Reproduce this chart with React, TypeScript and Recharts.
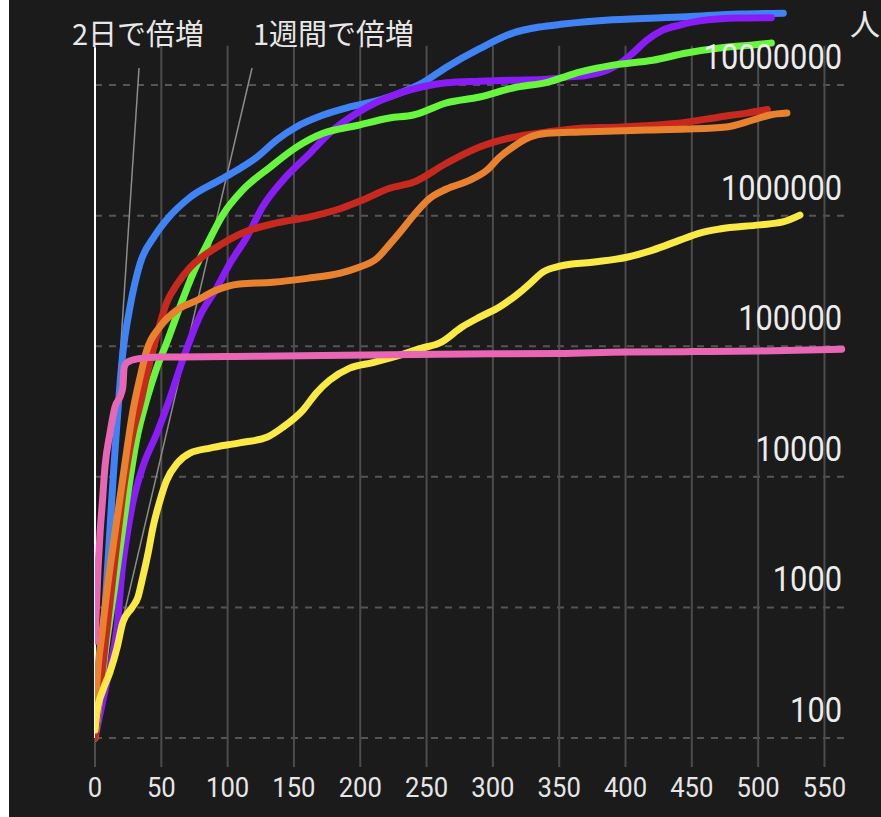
import { LineChart, Line, XAxis, YAxis, ReferenceLine } from 'recharts'

// days since the 100th case, cumulative cases (log scale)
const xTicks = [0, 50, 100, 150, 200, 250, 300, 350, 400, 450, 500, 550]
const yTicks = [100, 1000, 10000, 100000, 1000000, 10000000]

const blueSeries: [number, number][] = [
  [0, 100], [7.5, 960], [13.6, 9500], [21, 89000], [26.4, 200000], [34, 430000],
  [45, 700000], [54, 930000], [71.6, 1380000], [94, 1870000], [107, 2230000],
  [122, 2800000], [137, 3800000], [152, 4800000], [172, 5900000], [192, 6800000],
  [215, 7700000], [230, 8700000], [247, 10400000], [265, 13700000], [290, 19000000],
  [315, 25000000], [335, 27800000], [353, 29300000], [390, 31600000], [446, 33300000],
  [486, 35000000], [519, 35500000],
]

const purpleSeries: [number, number][] = [
  [0, 100], [6, 195], [11.3, 350], [16.6, 700], [20.4, 1900], [24, 3500], [28.6, 6400],
  [36, 11900], [46.7, 21600], [56.5, 40000], [66, 78000], [79, 170000], [92, 282000],
  [102, 435000], [114.6, 690000], [126.6, 1180000], [141.7, 1870000], [162, 3000000],
  [177, 4300000], [197.5, 6100000], [212.6, 7400000], [230, 8700000], [247, 9700000],
  [265, 10400000], [290, 10700000], [315, 10900000], [341, 11100000], [356, 11500000],
  [371, 11900000], [386, 13000000], [396, 14700000], [405.6, 17600000], [416, 22000000],
  [428, 26300000], [441, 28800000], [456, 31000000], [486, 32600000], [510, 32800000],
]

const greenSeries: [number, number][] = [
  [0, 100], [7.5, 435], [15, 1480], [23.4, 6000], [31.7, 20000], [39, 39000],
  [46.7, 69000], [54, 106000], [64, 200000], [74, 363000], [84.4, 600000],
  [96.5, 1020000], [111.6, 1580000], [132, 2350000], [152, 3350000], [172, 4270000],
  [197.5, 4900000], [222, 5600000], [240, 5900000], [265, 7300000], [290, 8100000],
  [315, 9500000], [341, 10500000], [366, 12600000], [390.5, 14200000], [420.6, 15500000],
  [446, 17600000], [471, 19200000], [496, 20300000], [510, 21000000],
]

const redSeries: [number, number][] = [
  [0, 100], [3.8, 233], [9.8, 800], [15, 2300], [20.4, 6600], [24, 11900], [28.6, 21600],
  [34, 35500], [40, 66000], [46.7, 122000], [54, 215000], [62, 300000], [71.6, 400000],
  [92, 575000], [111.6, 740000], [137, 880000], [162, 980000], [187, 1150000],
  [202, 1320000], [222, 1620000], [240, 1800000], [265, 2520000], [290, 3350000],
  [315, 3980000], [341, 4370000], [366, 4670000], [396, 4780000], [446, 5200000],
  [471, 5700000], [491.5, 6100000], [507, 6500000],
]

const orangeSeries: [number, number][] = [
  [0, 130], [1.5, 265], [5.3, 635], [9.8, 1540], [15, 3700], [20.4, 8900], [24, 16000],
  [28.6, 32000], [34, 58000], [39, 93000], [49, 141000], [62, 190000], [77, 225000],
  [90, 265000], [109, 300000], [134, 309000], [160, 331000], [185, 363000],
  [197.5, 398000], [212.6, 470000], [222, 600000], [232, 790000], [240, 1000000],
  [252.5, 1360000], [265, 1600000], [282.7, 1870000], [295.5, 2230000], [305, 2800000],
  [315, 3350000], [328, 4000000], [341, 4270000], [366, 4370000], [416, 4520000],
  [446, 4600000], [476, 4780000], [496, 5400000], [509, 5900000], [521.7, 6100000],
]

const yellowSeries: [number, number][] = [
  [0, 115], [1.5, 158], [6, 233], [11.3, 320], [16.6, 490], [21, 770], [28, 1000],
  [32.4, 1200], [36, 1700], [40, 2600], [43.7, 4100], [49, 6600], [54, 9400],
  [62, 12700], [71.6, 15200], [86.7, 16600], [109, 18200], [130, 20200], [141.7, 24000],
  [157, 32600], [167, 44000], [177, 55000], [192, 68000], [209.6, 75000], [222, 81000],
  [247, 97000], [260, 106000], [277, 141000], [290, 167000], [305, 200000],
  [320, 257000], [328, 302000], [338, 371000], [350.5, 410000], [375, 440000],
  [401, 480000], [420.6, 545000], [441, 650000], [456, 735000], [471, 790000],
  [501, 850000], [518.6, 895000], [531.5, 1010000],
]

const pinkSeries: [number, number][] = [
  [0, 550], [2.3, 2000], [3.8, 3700], [5.3, 5900], [7.5, 11900], [11.3, 21600],
  [15, 34000], [20, 44000], [21, 49000], [22, 69000], [24, 75000], [32, 80000],
  [49, 82600], [124, 84000], [222, 86000], [300, 87500], [350, 88000], [400, 90500],
  [450, 91000], [500, 92000], [563, 95000],
]

const twoDayLine: [number, number][] = [[0, 100], [33.2, 13500000]]
const oneWeekLine: [number, number][] = [[0, 100], [118.4, 13500000]]

const gridBottom = 60
const gridTop = 20000000
const zeroLineTop = 19500000
const xMax = 567

const series = [
  { name: 'blue', color: '#3f83f5', points: blueSeries },
  { name: 'purple', color: '#8a1cf7', points: purpleSeries },
  { name: 'green', color: '#68f53e', points: greenSeries },
  { name: 'red', color: '#c8291f', points: redSeries },
  { name: 'orange', color: '#e8822f', points: orangeSeries },
  { name: 'yellow', color: '#fbe944', points: yellowSeries },
  { name: 'pink', color: '#e966b4', points: pinkSeries },
]

const toRows = (pts: [number, number][]) => pts.map(([d, v]) => ({ d, v }))

function YTick(props: any) {
  const { y, payload } = props
  const s = String(payload.value)
  return (
    <text
      x={833}
      y={y - 16}
      textAnchor="end"
      fill="#ececec"
      fontFamily="Roboto"
      fontSize={35}
      textLength={s.length * 17.3}
      lengthAdjust="spacingAndGlyphs"
    >
      {s}
    </text>
  )
}

function XTick(props: any) {
  const { x, y, payload } = props
  const s = String(payload.value)
  return (
    <text
      x={x}
      y={y + 30}
      textAnchor="middle"
      fill="#e6e6e6"
      fontFamily="Roboto"
      fontSize={28}
      textLength={s.length * 14.4}
      lengthAdjust="spacingAndGlyphs"
    >
      {s}
    </text>
  )
}

export default function App() {
  const W = 872
  const H = 817
  return (
    <div style={{ position: 'absolute', left: 9, top: 0, width: W, height: H, background: '#1b1b1b' }}>
      <LineChart width={W} height={H} margin={{ top: 0, right: 33, bottom: 20, left: 86 }}>
        <XAxis
          type="number"
          dataKey="d"
          domain={[0, xMax]}
          ticks={xTicks}
          allowDataOverflow
          height={30}
          axisLine={false}
          tickLine={false}
          tickSize={0}
          tickMargin={0}
          tick={<XTick />}
        />
        <YAxis
          orientation="right"
          width={1}
          scale="log"
          domain={[60, 44800000]}
          ticks={yTicks}
          allowDataOverflow
          axisLine={false}
          tickLine={false}
          tickSize={0}
          tickMargin={0}
          tick={<YTick />}
        />
        {yTicks.map((t) => (
          <ReferenceLine
            key={'h' + t}
            segment={[{ x: 0, y: t }, { x: xMax, y: t }]}
            stroke="#555"
            strokeWidth={2}
            strokeDasharray="7 7"
          />
        ))}
        {xTicks.map((t) => (
          <ReferenceLine
            key={'v' + t}
            segment={[{ x: t, y: gridBottom }, { x: t, y: gridTop }]}
            stroke="#4c4c4c"
            strokeWidth={2}
          />
        ))}
        <ReferenceLine
          segment={[{ x: 0, y: 100 }, { x: 0, y: zeroLineTop }]}
          stroke="#ffffff"
          strokeWidth={2}
        />
        <Line data={toRows(twoDayLine)} dataKey="v" type="linear" stroke="#8c8c8c" strokeWidth={1.5} dot={false} isAnimationActive={false} />
        <Line data={toRows(oneWeekLine)} dataKey="v" type="linear" stroke="#8c8c8c" strokeWidth={1.5} dot={false} isAnimationActive={false} />
        {series.map((s) => (
          <Line
            key={s.name}
            data={toRows(s.points)}
            dataKey="v"
            name={s.name}
            type="monotone"
            stroke={s.color}
            strokeWidth={7}
            strokeLinecap="round"
            dot={false}
            isAnimationActive={false}
          />
        ))}
      </LineChart>
      <svg width={W} height={H} style={{ position: 'absolute', left: 0, top: 0, pointerEvents: 'none' }}>
        <text x={63} y={45} fill="#e8e8e8" fontFamily="Noto Sans CJK JP" fontSize={29}>2日で倍増</text>
        <text x={244} y={45} fill="#e8e8e8" fontFamily="Noto Sans CJK JP" fontSize={29}>1週間で倍増</text>
        <text x={841} y={35} fill="#e8e8e8" fontFamily="Noto Sans CJK JP" fontSize={30}>人</text>
      </svg>
    </div>
  )
}
